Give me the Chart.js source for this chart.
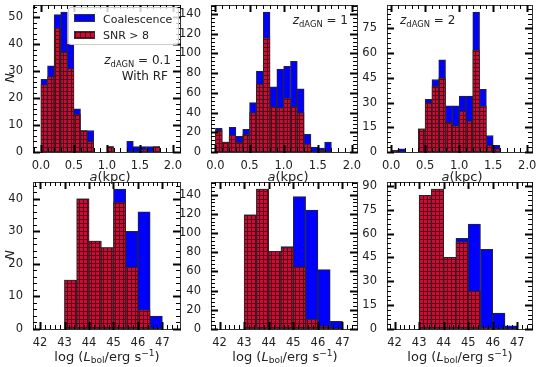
<!DOCTYPE html>
<html>
<head>
<meta charset="utf-8">
<script src="https://cdn.jsdelivr.net/npm/chart.js@4.4.0/dist/chart.umd.min.js"></script>
<style>
  body { margin: 0; width: 538px; height: 367px; background: #fff; position: relative; overflow: hidden; font-family: "DejaVu Sans", sans-serif; color: #222; }
  canvas { position: absolute; left: 0; top: 0; }
  .txt { position: absolute; white-space: nowrap; line-height: 1; }
  .ctr { transform: translate(-50%, -50%); }
  .rgt { transform: translate(-100%, -50%); }
  .lft { transform: translate(0, -50%); }
  .ax { font-size: 13px; }
  .ann { font-size: 12px; }
  sub { font-size: 0.7em; vertical-align: -0.3em; line-height: 0; }
  sup { font-size: 0.7em; vertical-align: 0.45em; line-height: 0; }
  #legend { position: absolute; left: 68px; top: 7px; width: 109px; height: 36px; border: 1px solid #ccc; border-radius: 3px; background: rgba(255,255,255,0.8); z-index: 5; }
  .patch { position: absolute; left: 5px; width: 21px; height: 8px; box-sizing: border-box; border: 1px solid #333; }
  .blue { background: #0000ff; }
  .red { background-color: rgb(205,12,50); background-image: linear-gradient(to right, rgba(0,0,0,0.5) 1px, transparent 1px), linear-gradient(to bottom, rgba(0,0,0,0.5) 1px, transparent 1px); background-size: 5px 5px; }
  .ltxt { position: absolute; left: 34px; font-size: 11px; transform: translate(0, -50%); white-space: nowrap; line-height: 1; }
</style>
</head>
<body>
<canvas id="p1" width="538" height="367"></canvas>
<canvas id="p2" width="538" height="367"></canvas>
<canvas id="p3" width="538" height="367"></canvas>
<canvas id="p4" width="538" height="367"></canvas>
<canvas id="p5" width="538" height="367"></canvas>
<canvas id="p6" width="538" height="367"></canvas>

<div id="legend">
  <span class="patch blue" style="top:6px"></span><span class="ltxt" style="top:11px">Coalescence</span>
  <span class="patch red" style="top:23px"></span><span class="ltxt" style="top:27px">SNR &gt; 8</span>
</div>

<!-- annotations -->
<div class="txt ann rgt" style="left:171px; top:60px"><i>z</i><sub>dAGN</sub> = 0.1</div>
<div class="txt ann rgt" style="left:168px; top:76px">With RF</div>
<div class="txt ann rgt" style="left:348px; top:20px"><i>z</i><sub>dAGN</sub> = 1</div>
<div class="txt ann lft" style="left:400px; top:20px"><i>z</i><sub>dAGN</sub> = 2</div>

<!-- axis titles -->
<div class="txt ax ctr" style="left:110px; top:176px"><i>a</i>(kpc)</div>
<div class="txt ax ctr" style="left:288px; top:176px"><i>a</i>(kpc)</div>
<div class="txt ax ctr" style="left:462px; top:176px"><i>a</i>(kpc)</div>
<div class="txt ax ctr" style="left:107px; top:356px">log (<i>L</i><sub>bol</sub>/erg s<sup>−1</sup>)</div>
<div class="txt ax ctr" style="left:285px; top:356px">log (<i>L</i><sub>bol</sub>/erg s<sup>−1</sup>)</div>
<div class="txt ax ctr" style="left:460px; top:356px">log (<i>L</i><sub>bol</sub>/erg s<sup>−1</sup>)</div>
<div class="txt ax ctr" style="left:9px; top:78px; transform: translate(-50%,-50%) rotate(-90deg)"><i>N</i></div>
<div class="txt ax ctr" style="left:9px; top:255px; transform: translate(-50%,-50%) rotate(-90deg)"><i>N</i></div>

<script>
// Bin left edges
const sepBinEdges = [0.0, 0.1, 0.2, 0.3, 0.4, 0.5, 0.6, 0.7, 0.8, 0.9, 1.0, 1.1, 1.2, 1.3, 1.4, 1.5, 1.6, 1.7, 1.8, 1.9];
const sepBinWidth = 0.1;
const lumBinEdges = [43.0, 43.5, 44.0, 44.5, 45.0, 45.5, 46.0, 46.5];
const lumBinWidth = 0.5;

// Separation histograms (counts per bin)
const sepCoalZ01 = [27, 32, 51, 52, 40, 16, 8, 8, 0, 0, 2, 0, 0, 4, 2, 2, 2, 2, 0, 0];
const sepSnrZ01  = [25, 28, 46, 37, 31, 14, 8, 4, 0, 0, 2, 0, 0, 0, 0, 1, 0, 2, 0, 0];
const sepCoalZ1  = [24, 10, 25, 16, 23, 50, 82, 142, 66, 84, 87, 92, 64, 18, 5, 4, 10, 0, 0, 0];
const sepSnrZ1   = [22, 10, 17, 10, 18, 40, 69, 116, 46, 45, 55, 46, 40, 8, 0, 2, 1, 0, 0, 0];
const sepCoalZ2  = [1, 2, 0, 0, 14, 32, 44, 56, 28, 28, 34, 34, 85, 38, 10, 4, 0, 0, 0, 0];
const sepSnrZ2   = [1, 0, 0, 0, 14, 30, 40, 45, 18, 16, 25, 19, 62, 28, 4, 2, 0, 0, 0, 0];

// Luminosity histograms
const lumCoalZ01 = [15, 40, 27, 25, 43, 30, 36, 4];
const lumSnrZ01  = [15, 40, 27, 25, 39, 19, 6, 0];
const lumCoalZ1  = [119, 146, 81, 86, 138, 124, 62, 8];
const lumSnrZ1   = [119, 146, 81, 85, 65, 10, 3, 0];
const lumCoalZ2  = [84, 88, 45, 57, 66, 50, 10, 2];
const lumSnrZ2   = [84, 88, 45, 55, 24, 1, 0, 0];

// Tick labels
const sepTicks = [0, 0.5, 1.0, 1.5, 2.0];
const lumTicks = [42, 43, 44, 45, 46, 47];
const yTicksZ01 = [0, 10, 20, 30, 40, 50];
const yTicksZ1  = [0, 20, 40, 60, 80, 100, 120, 140];
const yTicksZ2  = [0, 15, 30, 45, 60, 75];
const yTicksLumZ01 = [0, 10, 20, 30, 40];
const yTicksLumZ2  = [0, 15, 30, 45, 60, 75, 90];

const BLUE = '#0000ff';
const RED = 'rgb(205,12,50)';
const W = 538, H = 367;
const Y_AXIS_W = 32, X_AXIS_H = 22;

// Hatched red fill ('+' hatch)
function makeHatch(ctx) {
    const c = document.createElement('canvas');
    c.width = 4; c.height = 4;
    const g = c.getContext('2d');
    g.fillStyle = RED;
    g.fillRect(0, 0, 4, 4);
    g.fillStyle = 'rgba(0,0,0,0.55)';
    g.fillRect(0, 3, 4, 1);
    g.fillRect(3, 0, 1, 3);
    return ctx.createPattern(c, 'repeat');
}

// Frame plus inward major/minor ticks on all four sides
const axisTicks = {
    id: 'axisTicks',
    afterDraw(chart, args, o) {
        const { ctx, chartArea: a } = chart;
        const xs = chart.scales.x, ys = chart.scales.y;
        const L = Math.round(a.left), R = Math.round(a.right), T = Math.round(a.top), B = Math.round(a.bottom);
        ctx.save();
        ctx.strokeStyle = '#333';
        ctx.lineWidth = 1;
        ctx.strokeRect(L + 0.5, T + 0.5, R - L, B - T);

        const line = (x1, y1, x2, y2) => {
            ctx.beginPath(); ctx.moveTo(x1, y1); ctx.lineTo(x2, y2); ctx.stroke();
        };
        ctx.strokeStyle = '#000';

        // minor ticks
        ctx.lineWidth = 1;
        for (let k = Math.ceil(xs.min / o.xMinor); k * o.xMinor <= xs.max + 1e-9; k++) {
            const px = Math.round(xs.getPixelForValue(k * o.xMinor)) + 0.5;
            line(px, B, px, B - 4);
            line(px, T, px, T + 4);
        }
        for (let k = 0; k * o.yMinor <= ys.max + 1e-9; k++) {
            const py = Math.round(ys.getPixelForValue(k * o.yMinor)) + 0.5;
            line(L, py, L + 4, py);
            line(R, py, R - 4, py);
        }

        // major ticks
        ctx.lineWidth = 2;
        xs.ticks.forEach(t => {
            const px = Math.round(xs.getPixelForValue(t.value)) + 0.5;
            line(px, B + 1, px, B - 7);
            line(px, T, px, T + 7);
        });
        ys.ticks.forEach(t => {
            const py = Math.round(ys.getPixelForValue(t.value)) + 0.5;
            line(L, py, L + 7, py);
            line(R + 1, py, R - 7, py);
        });
        ctx.restore();
    }
};

function fixFit(s) {
    if (s.isHorizontal()) s.height = X_AXIS_H; else s.width = Y_AXIS_W;
    s.paddingLeft = 0; s.paddingRight = 0; s.paddingTop = 0; s.paddingBottom = 0;
}

function makePanel(id, edges, width, coal, snr, xTicks, yTicks, box, xRange, xMinor, yMinor, xFmt) {
    const canvas = document.getElementById(id);
    const ctx = canvas.getContext('2d');
    const centers = edges.map(e => +(e + width / 2).toFixed(3));
    const yMax = Math.max(...coal) * 1.05;
    const barOpts = {
        grouped: false,
        barPercentage: 1,
        categoryPercentage: 1,
        borderWidth: 1,
        borderColor: '#262626',
        borderSkipped: false
    };

    return new Chart(ctx, {
        type: 'bar',
        data: {
            labels: centers,
            datasets: [
                Object.assign({ label: 'SNR > 8', data: snr, backgroundColor: makeHatch(ctx), order: 0 }, barOpts),
                Object.assign({ label: 'Coalescence', data: coal, backgroundColor: BLUE, order: 1 }, barOpts)
            ]
        },
        options: {
            responsive: false,
            animation: false,
            events: [],
            layout: { padding: { left: box[0] - Y_AXIS_W, top: box[1], right: W - box[2], bottom: H - box[3] - X_AXIS_H } },
            plugins: {
                legend: { display: false },
                tooltip: { enabled: false },
                axisTicks: { xMinor: xMinor, yMinor: yMinor }
            },
            scales: {
                x: {
                    type: 'linear',
                    min: xRange[0],
                    max: xRange[1],
                    offset: false,
                    grid: { display: false },
                    border: { display: false },
                    afterBuildTicks: s => { s.ticks = xTicks.map(v => ({ value: v })); },
                    afterFit: fixFit,
                    ticks: {
                        autoSkip: false, maxRotation: 0, minRotation: 0, padding: 0,
                        color: '#222',
                        font: { family: 'DejaVu Sans', size: 11.5, lineHeight: 1 },
                        callback: v => xFmt(v)
                    }
                },
                y: {
                    type: 'linear',
                    min: 0,
                    max: yMax,
                    grid: { display: false },
                    border: { display: false },
                    afterBuildTicks: s => { s.ticks = yTicks.map(v => ({ value: v })); },
                    afterFit: fixFit,
                    ticks: {
                        autoSkip: false, padding: 2,
                        color: '#222',
                        font: { family: 'DejaVu Sans', size: 11.5, lineHeight: 1 },
                        callback: v => String(v)
                    }
                }
            }
        },
        plugins: [axisTicks]
    });
}

const sepFmt = v => v.toFixed(1);
const lumFmt = v => String(v);

makePanel('p1', sepBinEdges, sepBinWidth, sepCoalZ01, sepSnrZ01, sepTicks, yTicksZ01, [33, 5, 180, 152], [-0.12, 2.107], 0.1, 2, sepFmt);
makePanel('p2', sepBinEdges, sepBinWidth, sepCoalZ1, sepSnrZ1, sepTicks, yTicksZ1, [211, 5, 357, 152], [-0.065, 2.075], 0.1, 4, sepFmt);
makePanel('p3', sepBinEdges, sepBinWidth, sepCoalZ2, sepSnrZ2, sepTicks, yTicksZ2, [387, 5, 532, 152], [-0.06, 2.07], 0.1, 3, sepFmt);
makePanel('p4', lumBinEdges, lumBinWidth, lumCoalZ01, lumSnrZ01, lumTicks, yTicksLumZ01, [33, 182, 180, 329], [41.71, 47.72], 0.2, 2, lumFmt);
makePanel('p5', lumBinEdges, lumBinWidth, lumCoalZ1, lumSnrZ1, lumTicks, yTicksZ1, [211, 182, 357, 329], [41.65, 47.59], 0.2, 4, lumFmt);
makePanel('p6', lumBinEdges, lumBinWidth, lumCoalZ2, lumSnrZ2, lumTicks, yTicksLumZ2, [387, 182, 532, 329], [41.69, 47.6], 0.2, 3, lumFmt);
</script>
</body>
</html>
